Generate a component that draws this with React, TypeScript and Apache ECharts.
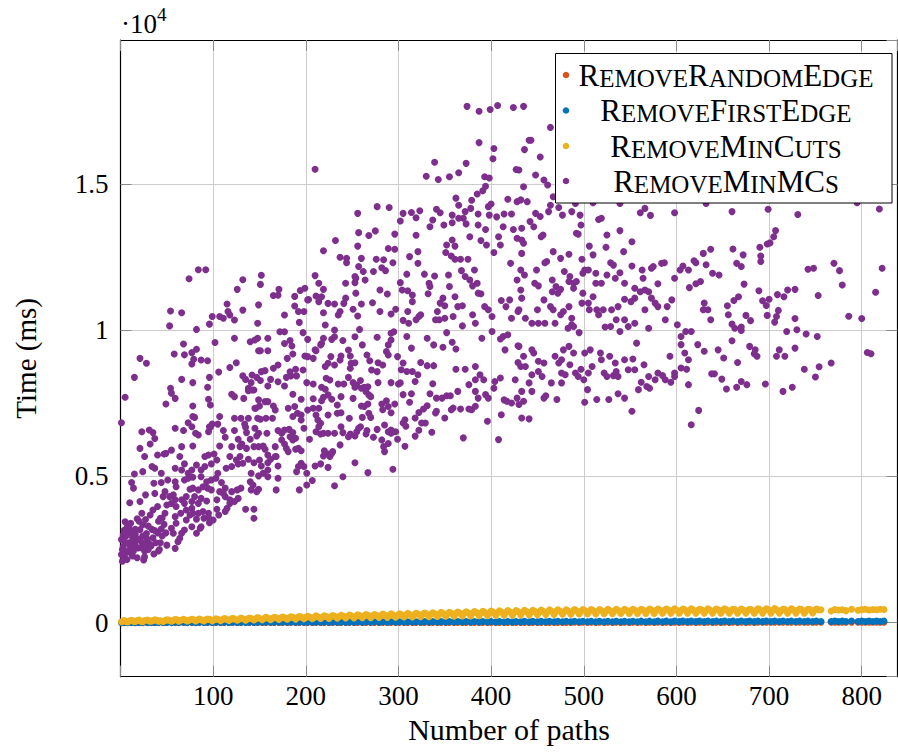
import React, { useEffect, useRef } from "react";
import * as echarts from "echarts";

const FONT = "'Liberation Serif', 'DejaVu Serif', serif";

const seriesNames = ["RemoveRandomEdge", "RemoveFirstEdge", "RemoveMinCuts", "RemoveMinMCs"];
const seriesColors = ["#D95319", "#0072BD", "#EDB120", "#7E2F8E"];
const xAxisTitle = "Number of paths";
const yAxisTitle = "Time (ms)";

// instance sizes (number of paths) of the three fast methods
const lowX = [
  1, 4, 8, 12, 16, 20, 24, 29, 33, 37, 41,
  46, 50, 55, 59, 63, 68, 72, 77, 81, 85,
  90, 94, 99, 103, 108, 112, 117, 121, 126, 130,
  135, 139, 144, 148, 153, 157, 162, 166, 171, 175,
  180, 184, 189, 193, 198, 202, 207, 211, 216, 220,
  225, 229, 234, 238, 243, 247, 252, 256, 261, 265,
  270, 274, 279, 283, 288, 292, 297, 301, 306, 310,
  315, 319, 324, 328, 333, 337, 342, 346, 351, 355,
  360, 364, 369, 373, 378, 382, 387, 391, 396, 400,
  405, 409, 414, 418, 423, 427, 432, 436, 441, 445,
  450, 454, 459, 463, 468, 472, 477, 481, 486, 490,
  495, 499, 504, 508, 513, 517, 522, 526, 531, 535,
  540, 544, 549, 553, 558, 562, 567, 571, 576, 580,
  585, 589, 594, 598, 603, 607, 612, 616, 621, 625,
  630, 634, 639, 643, 648, 652, 657, 661, 666, 670,
  675, 679, 684, 688, 693, 697, 702, 706, 711, 715,
  720, 724, 729, 733, 738, 742, 747, 751, 756,
  767, 771, 775, 779, 783, 789, 796, 800, 804, 808, 812, 816, 820, 824,
];

// further instances, between the ones above
const lowX2 = [
  3, 6, 10, 14, 18, 22, 26, 31, 35, 39, 43,
  48, 52, 57, 61, 65, 70, 74, 79, 83, 87,
  92, 96, 101, 105, 110, 114, 119, 123, 128, 132,
  137, 141, 146, 150, 155, 159, 164, 168, 173, 177,
  182, 186, 191, 195, 200, 204, 209, 213, 218, 222,
  227, 231, 236, 240, 245, 249, 254, 258, 263, 267,
  272, 276, 281, 285, 290, 294, 299, 303, 308, 312,
  317, 321, 326, 330, 335, 339, 344, 348, 353, 357,
  362, 366, 371, 375, 380, 384, 389, 393, 398, 402,
  407, 411, 416, 420, 425, 429, 434, 438, 443, 447,
  452, 456, 461, 465, 470, 474, 479, 483, 488, 492,
  497, 501, 506, 510, 515, 519, 524, 528, 533, 537,
  542, 546, 551, 555, 560, 564, 569, 573, 578, 582,
  587, 591, 596, 600, 605, 609, 614, 618, 623, 627,
  632, 636, 641, 645, 650, 654, 659, 663, 668, 672,
  677, 681, 686, 690, 695, 699, 704, 708, 713, 717,
  722, 726, 731, 735, 740, 744, 749, 753,
];

const randomEdgeY = [
  0, 1, 0, 1, 0, 1, 0, 1, 1, 1, 1,
  1, 2, 1, 2, 1, 2, 1, 2, 1, 2,
  1, 2, 2, 3, 2, 3, 2, 3, 2, 3,
  2, 3, 2, 3, 2, 4, 2, 4, 3, 4,
  3, 4, 3, 4, 3, 5, 3, 5, 3, 5,
  3, 5, 4, 5, 4, 5, 4, 6, 4, 6,
  4, 6, 4, 6, 4, 6, 5, 6, 5, 7,
  5, 7, 5, 7, 5, 7, 5, 7, 5, 7,
  5, 8, 6, 8, 6, 8, 6, 8, 6, 8,
  6, 8, 6, 8, 6, 9, 6, 9, 7, 9,
  7, 9, 7, 9, 7, 9, 7, 9, 7, 10,
  7, 10, 7, 10, 7, 10, 8, 10, 8, 10,
  8, 10, 8, 10, 8, 11, 8, 11, 8, 11,
  8, 11, 8, 11, 9, 11, 9, 11, 9, 11,
  9, 12, 9, 12, 9, 12, 9, 12, 9, 12,
  9, 12, 9, 12, 10, 12, 10, 12, 10, 12,
  10, 13, 10, 13, 10, 13, 10, 13, 10,
  10, 13, 10, 13, 10, 13, 10, 13, 11, 13, 11, 13, 11, 13,
];

const firstEdgeY = [
  1, 5, 2, 6, 2, 7, 3, 7, 3, 8, 4,
  4, 9, 4, 10, 5, 10, 5, 11, 6, 11,
  6, 12, 7, 13, 7, 14, 8, 14, 8, 15,
  9, 16, 9, 17, 10, 18, 10, 18, 11, 19,
  11, 20, 12, 21, 12, 22, 13, 22, 13, 23,
  14, 24, 14, 25, 15, 26, 15, 27, 16, 28,
  16, 28, 17, 29, 17, 30, 18, 31, 18, 32,
  19, 32, 19, 33, 20, 34, 20, 35, 21, 36,
  21, 36, 22, 37, 22, 38, 23, 38, 23, 39,
  24, 40, 24, 40, 25, 41, 25, 42, 26, 42,
  26, 43, 27, 44, 27, 44, 28, 45, 28, 46,
  28, 46, 29, 47, 29, 47, 30, 48, 30, 48,
  30, 49, 31, 49, 31, 50, 31, 50, 32, 51,
  32, 51, 32, 52, 33, 52, 33, 52, 33, 53,
  33, 53, 34, 53, 34, 54, 34, 54, 35, 54,
  35, 55, 35, 55, 35, 55, 36, 56, 36, 56,
  36, 56, 36, 56, 37, 57, 37, 57, 37,
  37, 57, 38, 57, 38, 58, 38, 58, 38, 58, 39, 58, 39, 58,
];

const minCutsY = [
  30, 70, 25, 80, 40, 85, 35, 90, 45, 95, 50,
  40, 100, 45, 105, 50, 110, 55, 115, 60, 120,
  55, 125, 60, 130, 65, 140, 75, 150, 80, 155,
  85, 160, 90, 170, 95, 180, 100, 185, 110, 195,
  115, 200, 120, 210, 130, 220, 135, 230, 140, 235,
  145, 245, 150, 250, 155, 260, 160, 265, 165, 275,
  170, 280, 175, 290, 180, 300, 185, 305, 190, 315,
  195, 320, 200, 330, 205, 340, 210, 350, 215, 355,
  220, 360, 225, 370, 230, 380, 235, 390, 240, 400,
  245, 405, 250, 410, 255, 415, 260, 420, 265, 425,
  270, 430, 275, 435, 280, 440, 285, 440, 290, 445,
  295, 445, 300, 450, 300, 450, 305, 455, 305, 455,
  310, 460, 310, 460, 315, 460, 315, 465, 315, 465,
  320, 465, 320, 470, 320, 465, 320, 470, 320, 460,
  325, 470, 325, 465, 320, 470, 325, 460, 320, 465,
  325, 460, 320, 470, 325, 475, 320, 480, 325, 460,
  320, 470, 325, 465, 320, 460, 330, 465, 440,
  400, 450, 430, 440, 410, 455, 420, 445, 455, 430, 450, 440, 455, 450,
];

const minCutsY2 = [
  55, 40, 65, 50, 70, 45, 75, 60, 70, 80, 65,
  75, 85, 70, 95, 80, 90, 85, 100, 90, 95,
  95, 110, 100, 115, 105, 120, 110, 125, 115, 130,
  125, 140, 135, 150, 140, 160, 150, 165, 155, 170,
  165, 180, 170, 190, 180, 195, 185, 200, 190, 210,
  200, 215, 210, 225, 215, 235, 220, 240, 230, 250,
  235, 255, 245, 260, 250, 270, 255, 275, 265, 285,
  270, 290, 280, 300, 285, 305, 295, 315, 300, 320,
  310, 325, 315, 335, 320, 345, 330, 350, 335, 360,
  340, 365, 345, 370, 350, 375, 355, 380, 360, 385,
  365, 390, 370, 395, 375, 400, 380, 400, 385, 405,
  385, 410, 390, 410, 395, 415, 395, 420, 400, 420,
  400, 425, 405, 425, 405, 430, 410, 430, 410, 430,
  410, 435, 415, 430, 410, 440, 415, 435, 410, 435,
  415, 430, 410, 440, 420, 435, 410, 445, 415, 430,
  420, 440, 410, 445, 415, 450, 420, 440, 410, 445,
  415, 440, 420, 445, 410, 450, 420, 440,
];

// [number of paths, time in ms]
const minMCsPoints = [
  [210,15510],[84,12070],[92,12070],[74,11760],[132,11730],[126,11400],[152,11880],[151,11570],
  [165,11190],[171,11400],[170,11200],[188,11160],[194,11360],[199,11440],[203,11050],[210,11870],[211,11170],
  [41,3470],[45,3580],[27,3530],[24,3350],[20,3470],[16,3190],[13,3130],[9,3300],[4,3160],[1,2840],
  [6,2960],[9,3070],[13,2900],[16,3010],[20,2850],[24,2960],[29,2850],[34,3190],[40,3070],[45,2960],[43,2730],[38,2730],[33,2620],[27,2670],[22,2560],[16,2620],[11,2500],[6,2390],[2,2500],[13,2280],[18,2220],[25,2140],[7,2160],[4,2220],[42,2500],[49,3070],[47,3360],[15,2730],[21,3180],[30,3300],[9,2730],[1,2330],[35,2900],[41,2450],
  [3,2600],[5,2750],[8,2450],[10,2650],[12,2350],[14,2450],[17,2800],[19,2550],[23,2750],[26,2450],[28,3050],[31,2700],[11,3400],[18,3550],[3,3000],[7,3250],[26,2250],[30,2500],[36,2350],[2,2100],[5,3450],[37,3150],[44,3200],[50,2650],
  [115,10900],[149,10870],[188,10830],[202,11040],[214,10980],[224,10920],[231,10900],[241,10920],[260,10900],[272,10940],
  [54,10660],[66,10600],[99,10470],[107,10470],[111,10410],[116,10640],[118,10520],[123,10350],[132,10690],[148,10240],[177,10520],[192,10640],[198,10640],[193,10270],[219,10600],[235,10520],[237,10640],[251,10720],[256,10490],[280,10640],[292,10560],[297,10720],
  [53,10150],[96,10210],[82,10030],[221,10180],[231,10010],[258,10030],
  [172,9950],[177,9950],[197,9920],[219,9725],[217,9550],[231,9780],[228,9690],[240,9650],[253,9780],[261,9500],[277,9760],[292,9670],[289,9500],[295,9950],[292,9900],[299,9100],
  [68,9530],[102,9580],[123,9725],[140,9610],[145,9670],[148,9725],[159,9725],[177,9550],[183,9650],[185,9460],[202,9690],[210,9330],[216,9500],
  [58,9190],[69,9160],[77,9235],[82,9350],[149,9300],[151,9300],[159,9300],[186,9190],[180,9040],[199,9120],[202,9100],[208,9040],[211,9300],[227,9100],[238,9120],[246,9325],[248,9120],[266,9155],[287,9270],[289,9155],
  [21,9040],[28,8870],[77,8850],[79,9010],[87,8985],[94,8960],[125,8890],[118,8730],[106,8570],[170,8810],[165,8700],[183,8580],[189,8665],[197,8640],[184,8440],[179,8390],[224,8870],[221,8760],[231,8810],[237,8985],[249,8870],[253,8890],[248,8700],[269,8960],[278,8890],[283,8810],[271,8640],[277,8585],
  [15,8390],[66,8320],[78,8210],[96,8390],[132,8440],[135,8320],[142,8470],[147,8390],[152,8585],[156,8620],[151,8280],[162,8320],[141,8210],[138,8015],[144,7960],[159,8095],[170,8240],[177,8095],[190,8440],[201,8210],[208,8160],[217,8050],[222,8360],[226,8300],[235,8160],[241,8160],[246,8390],[251,8210],[255,8130],[259,8280],[267,8070],[278,8210],[292,8210],[300,8160],
  [54,8015],[55,7850],[59,7670],[94,8050],[95,7640],[97,7445],[78,7410],[49,7480],[5,7710],[120,7810],[123,7730],[133,7670],[138,7935],[142,7960],[149,7620],[145,7330],[150,7410],[156,7560],[159,7560],[165,7410],[167,7275],[186,7810],[195,7640],[208,7660],[217,7590],[219,7710],[224,7790],[221,7980],[228,7640],[234,7445],[238,7730],[251,7670],[253,8050],[260,8015],[263,8050],[265,7900],[268,7790],[270,7730],[260,7410],[263,7390],[267,7480],[282,7480],[287,7590],[289,7390],[296,7480],
  [78,7050],[80,7020],[107,7050],[123,6990],[130,6990],[138,6990],[146,7330],[148,6990],[151,6955],[157,6990],[164,6990],[181,7330],[188,7390],[191,7160],[186,7050],[195,7100],[195,6930],[202,7270],[208,7330],[214,7330],[211,7100],[213,6930],[216,6820],[224,7100],[234,7160],[238,7180],[247,6990],[261,7020],[268,7160],[270,7020],[283,7280],[292,7180],
  [1,6840],[59,6650],[68,6570],[73,6840],[77,6700],[96,6700],[99,6790],[105,6790],[111,6570],[123,6570],[134,6790],[135,6680],[136,6500],[145,6650],[149,6480],[158,6480],[170,6570],[174,6480],[177,6590],[182,6610],[186,6500],[198,6650],[211,6530],[214,6700],[216,6450],[224,6480],[231,6480],[238,6700],[240,6500],[248,6450],[255,6530],[257,6650],[259,6700],[266,6570],[277,6610],[285,6760],[289,6530],[292,6590],[297,6530],
  [23,6530],[31,6590],[35,6500],[37,6300],[32,6110],[21,5960],[40,5735],[47,5770],[55,5900],[66,6020],[78,6040],[81,6480],[84,6420],[95,6530],[97,6680],[113,6340],[107,6040],[120,6020],[127,6270],[129,6020],[131,6110],[136,5960],[140,6270],[144,6020],[147,6385],[149,6020],[154,6040],[156,5930],[159,5735],[167,6020],[168,5680],[174,6250],[177,6110],[179,5960],[183,6360],[186,6250],[189,5930],[192,5960],[195,5880],[181,5850],[189,6305],[204,6270],[219,6480],[224,5770],[229,5850],[237,6080],[246,6360],[253,6385],[265,6450],[273,6340],[282,6250],[284,6020],[285,5850],[289,6130],[292,6480],[299,6270],
  [26,5680],[49,5790],[64,5680],[69,5430],[91,5680],[95,5735],[101,5770],[104,5560],[98,5430],[118,5680],[125,5560],[129,5680],[138,5590],[144,5470],[150,5560],[152,5360],[159,5470],[162,5590],[167,5680],[170,5360],[159,5220],[154,5110],[149,5020],[141,5110],[132,5450],[127,5430],[120,5340],[114,5280],[105,5110],[91,5340],[87,5220],[82,5390],[77,5220],[73,5110],[66,5220],[59,5280],[37,5280],[44,5110],[34,5340],[15,5085],[24,5165],[192,5340],[198,5340],[195,5450],[210,5360],[216,5430],[224,5310],[220,5880],[219,5700],[226,5680],[228,5790],[253,5470],[267,5130],[294,5245],[240,4990],
  [12,4790],[14,4600],[36,4770],[44,4790],[51,4880],[59,4820],[60,4650],[69,4880],[73,4940],[78,4970],[87,4990],[93,4820],[98,4880],[103,4940],[109,4790],[113,4600],[120,4480],[126,4540],[130,4600],[140,4820],[143,4710],[141,4540],[147,4480],[149,4560],[170,4940],[168,4540],[159,4990],[190,5165],[201,5110],[207,4860],[201,4710],[193,4540],[231,4680],
  [10,4100],[21,4140],[27,4370],[37,4420],[48,4480],[46,4310],[53,4310],[57,4370],[59,4200],[66,4200],[71,4310],[75,4560],[78,4600],[84,4540],[89,4650],[94,4600],[98,4540],[80,4310],[87,4250],[93,4160],[84,4080],[77,4140],[69,4080],[104,4200],[107,4480],[113,4310],[118,4200],[123,4140],[127,4250],[118,4080],[115,3910],[113,3800],[135,3880],[144,3880],[144,3570],[111,4420],
  [40,3970],[50,4025],[48,3740],[35,3850],[32,3680],[23,3740],[43,3570],[55,4080],[60,3970],[65,3740],[59,3625],[71,3850],[77,3910],[75,3680],[71,3510],[78,3740],[84,3740],[89,3800],[95,3740],[90,3570],[100,3510],[96,3420],[104,3880],[106,3680],[82,3540],[87,3280],[77,3280],[69,3170],[66,3060],[64,2885],[57,3060],[55,3230],[60,3400],[82,3060],[86,3230],[95,3600],[62,2770],[59,2540],
  [374,17660],[387,17490],[399,17550],[407,17690],[424,17620],[387,16420],[403,16220],[402,15870],[339,15750],[373,15710],[330,15270],[343,15160],[355,15250],[365,15390],[393,15250],[398,15210],[427,15500],[394,14930],[391,14770],[385,14660],[379,14450],[362,14520],[365,14280],[378,14170],[372,14060],[370,13830],[373,13640],[400,14320],[397,14230],[418,14480],[428,14400],
  [277,14230],[290,14200],[256,14000],[305,14000],[314,14030],[323,14090],[302,13740],[319,13850],[341,14140],[345,14020],[337,13770],[334,13540],[349,13600],[358,13940],[358,13680],[365,13830],[386,13980],[386,13600],[394,13450],[398,13940],[406,13880],[414,13980],[422,13980],[413,13540],[424,13450],[408,13200],[428,13150],
  [257,13340],[268,13240],[275,13400],[296,13290],[319,13250],[232,13070],[256,12880],[219,12720],[289,12800],[296,12770],[312,12520],[321,12690],[321,12290],[352,12920],[361,12880],[358,13090],[389,13070],[395,12920],[403,12660],[410,12920],[351,12660],[357,12540],[361,12430],[367,12430],[375,12430],[377,13200],[421,12290],
  [237,12500],[244,12460],[244,12310],[260,12460],[276,12430],[284,12410],[294,12310],[257,12180],[262,12010],[254,11780],[264,11720],[273,12010],[282,12140],[286,12040],[309,11920],[328,11920],[339,11860],[354,11890],[368,12040],[382,12060],[372,11840],[377,11720],[385,11610],[380,11520],[386,11270],[428,11720],
  [214,11610],[219,11400],[217,11150],[243,11610],[253,11840],[253,11630],[254,11270],[243,11100],[280,11380],[288,11240],[302,11630],[304,11380],[310,11350],[315,11210],[315,10980],[310,10640],[319,10360],[324,10530],[333,11610],[334,11500],[332,11250],[340,10360],[342,10640],[345,10930],[348,11100],[350,10840],[355,11500],[361,11150],[364,10810],[369,10840],[359,10470],[350,10410],[344,10360],[369,10150],[380,10530],[383,10240],[393,10810],[397,10700],[401,10470],[389,11250],[411,11020],[416,10810],[422,10410],[429,10640],[420,11040],
  [305,10340],[311,10240],[322,10470],[314,9390],[309,9790],[331,9730],[338,9500],[348,9420],[352,9920],[358,9590],[362,9360],[362,8670],[390,9730],[401,9960],[410,9700],[413,9790],[418,9850],[415,9330],[429,9470],
  [305,8880],[303,8650],[309,8590],[315,8590],[321,8480],[324,8900],[331,8790],[338,8790],
  [302,8200],[318,8250],[337,8170],[305,7800],[314,7830],[312,7540],[334,7830],[341,7680],[347,7680],[352,7760],[356,7760],[364,7910],[357,7280],[359,7340],[367,7310],[376,7310],[379,7280],[383,7400],[376,8140],[383,8310],[388,8480],[392,8310],[383,7910],[386,7680],[394,7800],[397,7680],[403,8020],[404,8250],[410,8370],[414,7620],[417,7570],[422,7510],[428,7680],[426,8310],[429,8900],[383,8760],[372,8670],
  [331,7420],[327,7310],[322,7190],[318,7000],[329,6830],[336,6510],[340,7170],[341,7230],[350,7000],[307,6940],[305,6830],[308,6720],[307,6030],[318,6380],[322,6580],[325,6830],[370,6320],[408,6260],[396,6890],[411,7110],
  [435,17660],[441,16500],[443,16500],[436,16180],[453,15930],[464,16940],[448,15310],[457,15140],[461,14970],[435,14910],[430,15480],[439,14400],[432,14460],[467,14570],[464,14280],[462,14060],[453,13890],[448,14000],[442,13720],[446,13540],[433,13490],[456,13260],[454,13200],[433,13090],[435,12980],[433,12630],[467,12690],[475,12460],[484,12600],[477,13940],[487,14060],[496,13940],[497,13600],[494,13290],[492,13320],[473,14200],[491,14340],[510,14360],[539,14340],[519,13830],[516,13790],[525,13260],[539,13410],[561,14020],[566,14170],[572,13930],[598,14020],[632,14340],[552,13030],[543,12690],[506,12880],[510,12580],[524,12840],[498,12430],[449,12060],[458,12310],[460,12350],[432,12060],[436,11890],[447,11610],[451,11520],[466,11720],[470,11500],[475,11400],[479,12010],[485,11840],[484,11670],[489,11610],[492,11670],[489,11440],[499,11950],[501,12060],[505,12060],[513,11950],[513,11610],[519,11610],[525,11890],[529,12310],[532,12230],[534,11780],[539,11970],[544,11610],[552,12200],[555,11440],[564,11780],[563,12060],[566,11380],[573,12120],[575,12180],[580,11590],[584,12290],[587,12310],[598,11780],[604,12060],[607,12200],[613,12060],[619,12380],[621,12310],[629,12630],[637,12770],[632,12240],[639,11950],[626,11670],[621,11590],[614,11460],
  [432,11380],[433,11100],[430,10700],[437,10410],[444,10240],[451,10240],[450,10700],[457,11040],[458,10240],[464,10810],[467,10700],[466,11320],[472,11270],[469,10240],[475,10530],[478,10640],[484,10810],[487,10410],[483,10070],[489,10130],[495,9920],[498,10930],[499,11270],[505,10930],[506,10700],[510,11150],[514,10700],[516,10530],[521,10700],[523,10110],[530,10700],[529,10130],[537,10810],[535,10360],[539,9960],[544,10360],[544,11060],[548,10130],[551,10980],[555,11100],[555,10240],[557,9560],[561,11320],[566,10700],[570,10070],[570,11320],[573,11100],[577,10930],[580,10810],[588,10360],[590,10810],[595,11040],[601,10190],[605,9790],[605,9510],[610,9960],[616,9960],[609,9220],[613,8990],[623,9510],[629,10700],[630,10930],[637,10360],[634,10700],
  [430,9450],[435,9110],[446,9220],[451,8940],[457,8880],[437,8760],[444,8480],[455,8420],[441,8200],[433,7910],[444,7910],[435,7570],[430,7460],[433,7000],[441,6970],[457,7680],[459,7760],[471,7630],[465,8200],[469,9110],[476,8990],[476,8540],[480,8480],[476,8200],[485,8820],[489,9220],[491,8540],[494,8420],[500,8310],[497,8670],[501,9220],[507,9330],[509,8760],[505,8540],[504,7970],[501,7540],[514,7630],[518,9220],[519,8990],[522,8540],[525,8420],[528,9110],[534,8880],[535,8590],[532,8450],[537,8420],[527,7630],[537,7830],[544,7680],[544,8990],[548,8650],[553,9020],[552,7230],[555,8650],[559,7970],[562,8220],[565,8820],[568,8080],[571,8020],[570,8420],[577,8310],[580,8540],[585,8450],[588,8310],[593,9110],[594,8220],[598,8540],[598,8420],[605,8710],[611,8670],[613,8140],[616,6770],[624,7260],[630,9280],[638,8510],[641,8510],[645,9330],[444,9330],[432,8760],[451,8590],[473,8880],[478,9330],[484,9450],[487,10190],
  [660,14060],[699,14140],[731,13960],[795,14360],[819,14150],[661,12780],[672,12580],[665,12290],[670,12180],[690,12840],[691,12540],[691,12350],[698,12950],[705,13200],[707,13410],[701,12990],[742,12090],[748,12120],[770,12290],[776,12040],[779,11550],[822,12120],[815,11300],[646,11890],[673,11580],[689,11350],[667,11150],[662,11020],[655,10840],[656,10530],[675,10510],[680,10330],[693,11010],[697,10850],[700,11060],[709,11220],[716,11150],[720,11380],[728,11400],[698,10510],[708,10470],[710,10680],[706,10280],[728,10400],[753,11190],[786,10480],[800,10400],[660,10210],[663,10070],[670,10110],[670,9990],[660,9640],[719,9960],[730,10020],[740,9870],[752,9790],[679,9450],[685,9330],[684,9200],[687,9110],[711,9330],[708,9110],[717,9110],[728,9390],[651,9050],[666,8900],[649,8330],[654,7990],[665,8050],[670,8250],[676,8140],[696,8160],[715,7910],[725,8050],[738,8670],[750,8400],[754,8750],[767,8880],[806,9240],[810,9200],
];

const xMin = 0;
const xMax = 838.6;
const yMin = -1850;
const yMax = 19930;

function zip(xs: number[], ys: number[]) {
  const n = Math.min(xs.length, ys.length);
  const out: number[][] = [];
  for (let i = 0; i < n; i++) out.push([xs[i], ys[i]]);
  return out;
}

// small-caps legend labels as rich text
function smallCaps(name: string) {
  let out = "";
  let cur = "";
  let curType = "";
  for (const ch of name) {
    const t = ch === ch.toUpperCase() ? "c" : "s";
    if (t !== curType && cur) {
      out += `{${curType}|${cur}}`;
      cur = "";
    }
    curType = t;
    cur += ch.toUpperCase();
  }
  if (cur) out += `{${curType}|${cur}}`;
  return out;
}

export default function App() {
  const ref = useRef<HTMLDivElement>(null);
  useEffect(() => {
    if (!ref.current) return;
    const chart = echarts.init(ref.current, undefined, { renderer: "svg" });
    const seriesData = [
      zip(lowX, randomEdgeY),
      zip(lowX, firstEdgeY),
      zip(lowX, minCutsY).concat(zip(lowX2, minCutsY2)),
      minMCsPoints,
    ];
    const axisLine = { show: true, onZero: false, lineStyle: { color: "#000", width: 1.2 } };
    const tick = { show: true, inside: true, length: 11, lineStyle: { color: "#8a8a8a", width: 1 } };
    const split = { show: true, lineStyle: { color: "#cccccc", width: 1 } };
    const legendRows = [75, 110.5, 146, 181];
    const legendRich = {
      c: { fontFamily: FONT, fontSize: 31, color: "#000", verticalAlign: "bottom", lineHeight: 31 },
      s: { fontFamily: FONT, fontSize: 25, color: "#000", verticalAlign: "bottom", lineHeight: 31 },
    };
    const graphic: any[] = [
      {
        type: "rect",
        z: 100,
        shape: { x: 555.5, y: 53.5, width: 336.5, height: 149.5 },
        style: { fill: "#fff", stroke: "#000", lineWidth: 1 },
      },
      {
        type: "text",
        z: 100,
        x: 121,
        y: 23.5,
        style: { text: "·10", fontFamily: FONT, fontSize: 27, fill: "#000", textAlign: "left", textVerticalAlign: "middle" },
      },
      {
        type: "text",
        z: 100,
        x: 157,
        y: 14,
        style: { text: "4", fontFamily: FONT, fontSize: 19, fill: "#000", textAlign: "left", textVerticalAlign: "middle" },
      },
    ];
    seriesNames.forEach((name, i) => {
      graphic.push({
        type: "circle",
        z: 101,
        shape: { cx: 566, cy: legendRows[i], r: 3.3 },
        style: { fill: seriesColors[i] },
      });
      graphic.push({
        type: "text",
        z: 101,
        x: 726,
        y: legendRows[i],
        style: { text: smallCaps(name), rich: legendRich, textAlign: "center", textVerticalAlign: "middle", fill: "#000" },
      });
    });

    chart.setOption({
      animation: false,
      backgroundColor: "#fff",
      textStyle: { fontFamily: FONT },
      grid: { left: 120.5, top: 40, right: 0.5, bottom: 77.3, containLabel: false },
      xAxis: [
        {
          type: "value",
          min: xMin,
          max: xMax,
          interval: 100,
          axisLine,
          axisTick: tick,
          splitLine: split,
          axisLabel: {
            fontFamily: FONT,
            fontSize: 27,
            color: "#000",
            margin: 6,
            showMaxLabel: false,
            formatter: (v: number) => (v > 0 && v % 100 === 0 ? String(v) : ""),
          },
          name: xAxisTitle,
          nameLocation: "middle",
          nameGap: 37,
          nameTextStyle: { fontFamily: FONT, fontSize: 30, color: "#000" },
        },
        {
          type: "value",
          position: "top",
          min: xMin,
          max: xMax,
          interval: 100,
          axisLine,
          axisTick: tick,
          splitLine: { show: false },
          axisLabel: { show: false },
        },
      ],
      yAxis: [
        {
          type: "value",
          min: yMin,
          max: yMax,
          splitNumber: 5,
          axisLine,
          axisTick: tick,
          splitLine: split,
          axisLabel: {
            fontFamily: FONT,
            fontSize: 27,
            color: "#000",
            margin: 12,
            showMinLabel: false,
            showMaxLabel: false,
            formatter: (v: number) => (v % 5000 === 0 ? String(v / 10000) : ""),
          },
          name: yAxisTitle,
          nameLocation: "middle",
          nameRotate: 90,
          nameGap: 80,
          nameTextStyle: { fontFamily: FONT, fontSize: 29, color: "#000" },
        },
        {
          type: "value",
          position: "right",
          min: yMin,
          max: yMax,
          splitNumber: 5,
          axisLine,
          axisTick: tick,
          splitLine: { show: false },
          axisLabel: { show: false },
        },
      ],
      series: seriesNames.map((name, i) => ({
        name,
        type: "scatter",
        xAxisIndex: 0,
        yAxisIndex: 0,
        data: seriesData[i],
        symbol: "circle",
        symbolSize: 7,
        silent: true,
        itemStyle: { color: seriesColors[i], opacity: 1 },
      })),
      graphic,
    });
    return () => chart.dispose();
  }, []);
  return (
    <div
      ref={ref}
      style={{ position: "absolute", left: 0, top: 0, width: 898, height: 754, background: "#fff" }}
    />
  );
}
